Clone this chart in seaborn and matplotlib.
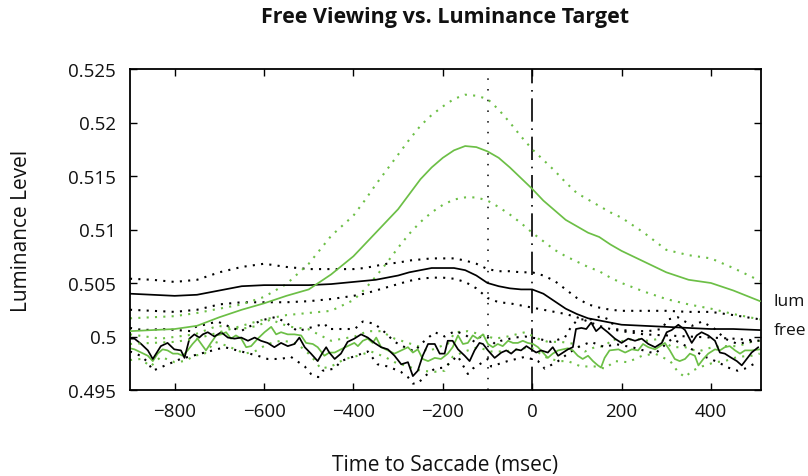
import matplotlib
matplotlib.use("Agg")
import matplotlib.pyplot as plt
import seaborn as sns

sns.set_theme(style="white")
plt.rcParams["font.family"] = ["Open Sans", "DejaVu Sans"]

GREEN = "#6cbf46"
BLACK = "#000000"

# ---- smoothed averages ----
t_smooth = [-900, -850, -800, -750, -700, -650, -600, -550, -500, -450, -400, -375,
            -350, -325, -300, -275, -250, -225, -200, -175, -150, -125, -100, -75,
            -50, -25, 0, 25, 50, 75, 100, 125, 150, 175, 200, 250, 300, 350, 400,
            450, 510]

lum_mean = [0.5005, 0.5006, 0.5007, 0.5010, 0.5018, 0.5025, 0.5031, 0.5038, 0.5044,
            0.5058, 0.5075, 0.5086, 0.5097, 0.5108, 0.5119, 0.5133, 0.5147, 0.5158,
            0.5167, 0.5174, 0.5178, 0.5177, 0.5173, 0.5167, 0.5158, 0.5148, 0.5138,
            0.5127, 0.5118, 0.5109, 0.5103, 0.5097, 0.5093, 0.5086, 0.5080, 0.5070,
            0.5060, 0.5053, 0.5050, 0.5043, 0.5033]
lum_upper = [0.5017, 0.5018, 0.5019, 0.5022, 0.5026, 0.5030, 0.5037, 0.5049, 0.5068,
             0.5094, 0.5113, 0.5127, 0.5142, 0.5156, 0.5170, 0.5184, 0.5197, 0.5207,
             0.5215, 0.5222, 0.5226, 0.5225, 0.5222, 0.5212, 0.5200, 0.5187, 0.5175,
             0.5165, 0.5155, 0.5144, 0.5134, 0.5128, 0.5122, 0.5116, 0.5111, 0.5097,
             0.5081, 0.5076, 0.5073, 0.5064, 0.5052]
lum_lower = [0.4993, 0.4994, 0.4995, 0.4998, 0.5004, 0.5010, 0.5016, 0.5020, 0.5022,
             0.5024, 0.5034, 0.5044, 0.5056, 0.5069, 0.5083, 0.5096, 0.5107, 0.5116,
             0.5123, 0.5128, 0.5130, 0.5130, 0.5127, 0.5121, 0.5114, 0.5106, 0.5097,
             0.5089, 0.5081, 0.5075, 0.5070, 0.5065, 0.5061, 0.5055, 0.5050, 0.5042,
             0.5035, 0.5030, 0.5026, 0.5021, 0.5016]

free_mean = [0.5040, 0.5039, 0.5038, 0.5039, 0.5043, 0.5047, 0.5048, 0.5048, 0.5048,
             0.5049, 0.5051, 0.5052, 0.5053, 0.5055, 0.5057, 0.5060, 0.5062, 0.5064,
             0.5064, 0.5064, 0.5062, 0.5057, 0.5050, 0.5047, 0.5045, 0.5044, 0.5044,
             0.5040, 0.5033, 0.5026, 0.5021, 0.5017, 0.5015, 0.5013, 0.5011, 0.5010,
             0.5009, 0.5008, 0.5007, 0.5007, 0.5006]
free_upper = [0.5054, 0.5053, 0.5051, 0.5053, 0.5060, 0.5065, 0.5068, 0.5065, 0.5063,
              0.5063, 0.5063, 0.5064, 0.5066, 0.5068, 0.5069, 0.5071, 0.5072, 0.5073,
              0.5073, 0.5073, 0.5071, 0.5068, 0.5063, 0.5061, 0.5061, 0.5060, 0.5060,
              0.5057, 0.5052, 0.5044, 0.5036, 0.5030, 0.5027, 0.5025, 0.5024, 0.5024,
              0.5024, 0.5023, 0.5023, 0.5020, 0.5016]
free_lower = [0.5025, 0.5024, 0.5023, 0.5025, 0.5030, 0.5032, 0.5032, 0.5032, 0.5033,
              0.5035, 0.5038, 0.5040, 0.5043, 0.5046, 0.5049, 0.5052, 0.5054, 0.5055,
              0.5055, 0.5054, 0.5051, 0.5045, 0.5036, 0.5032, 0.5031, 0.5029, 0.5027,
              0.5025, 0.5023, 0.5021, 0.5018, 0.5014, 0.5010, 0.5007, 0.5005, 0.5002,
              0.5001, 0.5000, 0.4999, 0.4998, 0.4996]

# ---- raw (unsmoothed) averages ----
free_raw_t = [-900, -890, -875, -860, -849, -831, -816, -801, -786, -778, -767, -756,
              -745, -737, -726, -711, -696, -681, -666, -651, -636, -621, -607, -592,
              -577, -562, -547, -532, -521, -509, -495, -480, -469, -461, -454, -442,
              -428, -413, -398, -383, -368, -353, -338, -323, -308, -293, -278, -267,
              -256, -245, -233, -218, -207, -196, -189, -178, -166, -151, -140, -129,
              -118, -110, -99, -84, -69, -58, -47, -36, -25, -13, -2, 9, 20, 35, 46,
              58, 69, 80, 91, 98, 110, 121, 132, 143, 154, 169, 185, 200, 215, 230,
              245, 260, 275, 290, 301, 312, 327, 342, 357, 368, 379, 394, 409, 420,
              431, 446, 458, 469, 480, 491, 506]
free_raw = [0.4998, 0.4998, 0.4993, 0.4987, 0.4979, 0.4991, 0.4994, 0.4988, 0.4987,
            0.4980, 0.4998, 0.5002, 0.4999, 0.5002, 0.5004, 0.5000, 0.5004, 0.4999,
            0.4998, 0.4999, 0.4996, 0.4999, 0.4996, 0.4994, 0.4990, 0.4994, 0.4991,
            0.4993, 0.4999, 0.4990, 0.4984, 0.4977, 0.4985, 0.4990, 0.4985, 0.4979,
            0.4984, 0.4995, 0.4998, 0.5002, 0.4999, 0.4994, 0.4990, 0.4988, 0.4982,
            0.4974, 0.4976, 0.4963, 0.4968, 0.4982, 0.4993, 0.4993, 0.4984, 0.4984,
            0.4996, 0.4996, 0.4988, 0.4982, 0.4977, 0.4987, 0.4994, 0.4993, 0.4987,
            0.4980, 0.4985, 0.4987, 0.4984, 0.4988, 0.4987, 0.4991, 0.4988, 0.4985,
            0.4987, 0.4985, 0.4990, 0.4982, 0.4985, 0.4988, 0.4990, 0.5007, 0.5008,
            0.5007, 0.5013, 0.5005, 0.5009, 0.5004, 0.4998, 0.4994, 0.4998, 0.4996,
            0.4998, 0.4993, 0.4990, 0.4994, 0.5004, 0.5006, 0.5011, 0.5006, 0.4994,
            0.5001, 0.5004, 0.5001, 0.4996, 0.4985, 0.4984, 0.4980, 0.4977, 0.4973,
            0.4979, 0.4985, 0.4990]

free_raw_up_t = [-900, -870, -827, -764, -753, -704, -688, -652, -607, -576, -554,
                 -525, -464, -457, -397, -379, -353, -330, -308, -285, -263, -249,
                 -218, -196, -173, -151, -129, -115, -99, -83, -70, -39, -16, 13, 42,
                 73, 87, 98, 109, 131, 154, 176, 185, 223, 259, 290, 304, 326, 358,
                 380, 409, 431, 460, 482, 504]
free_raw_up = [0.5008, 0.5006, 0.5007, 0.5005, 0.5009, 0.5014, 0.5011, 0.5005, 0.5015,
               0.5018, 0.5014, 0.5005, 0.5012, 0.5007, 0.5007, 0.5014, 0.5012, 0.5004,
               0.4995, 0.4990, 0.4986, 0.4993, 0.5004, 0.5000, 0.5005, 0.5002, 0.4995,
               0.5000, 0.4999, 0.4993, 0.4996, 0.4999, 0.5000, 0.4998, 0.4995, 0.4999,
               0.5009, 0.5014, 0.5016, 0.5016, 0.5019, 0.5015, 0.5007, 0.5005, 0.5005,
               0.5007, 0.5016, 0.5018, 0.5010, 0.5014, 0.5007, 0.4998, 0.4993, 0.4995,
               0.4996]

free_raw_lo_t = [-900, -876, -860, -849, -787, -688, -614, -592, -563, -540, -509,
                 -495, -479, -469, -442, -428, -368, -346, -323, -294, -278, -267,
                 -256, -240, -218, -196, -167, -144, -133, -99, -92, -55, -16, 13, 28,
                 58, 80, 102, 131, 163, 185, 223, 275, 313, 349, 387, 416, 438, 460,
                 476, 504]
free_raw_lo = [0.4986, 0.4982, 0.4976, 0.4968, 0.4979, 0.4990, 0.4982, 0.4979, 0.4979,
               0.4981, 0.4972, 0.4965, 0.4962, 0.4968, 0.4970, 0.4977, 0.4986, 0.4974,
               0.4972, 0.4967, 0.4962, 0.4956, 0.4956, 0.4963, 0.4970, 0.4971, 0.4982,
               0.4965, 0.4970, 0.4979, 0.4972, 0.4977, 0.4981, 0.4977, 0.4970, 0.4977,
               0.4984, 0.4990, 0.4995, 0.4990, 0.4993, 0.4990, 0.4984, 0.4998, 0.4990,
               0.4981, 0.4976, 0.4971, 0.4968, 0.4970, 0.4976]

lum_raw_t = [-900, -890, -875, -860, -849, -838, -827, -816, -804, -793, -782, -771,
             -760, -749, -737, -730, -719, -707, -696, -685, -674, -663, -651, -640,
             -629, -614, -599, -584, -573, -562, -547, -532, -517, -506, -491, -480,
             -465, -454, -442, -428, -413, -398, -390, -379, -368, -357, -349, -338,
             -323, -308, -293, -278, -267, -256, -245, -233, -218, -204, -189, -178,
             -166, -155, -144, -133, -122, -110, -99, -88, -77, -66, -54, -43, -32,
             -21, -10, 2, 13, 24, 35, 46, 58, 69, 80, 91, 102, 113, 125, 136, 147,
             154, 162, 173, 193, 208, 223, 237, 248, 260, 275, 286, 297, 308, 319,
             330, 342, 353, 364, 372, 383, 394, 409, 420, 431, 442, 454, 465, 476,
             491, 510]
lum_raw = [0.4989, 0.4988, 0.4985, 0.4982, 0.4977, 0.4984, 0.4988, 0.4987, 0.4984,
           0.4984, 0.4982, 0.4987, 0.4993, 0.4998, 0.4991, 0.4987, 0.4994, 0.5001,
           0.5002, 0.5004, 0.4998, 0.5001, 0.4998, 0.4990, 0.4991, 0.4998, 0.5004,
           0.5009, 0.5002, 0.5004, 0.5002, 0.5002, 0.5001, 0.4994, 0.4993, 0.4990,
           0.4982, 0.4985, 0.4985, 0.4988, 0.4991, 0.4994, 0.4991, 0.4996, 0.4998,
           0.4994, 0.4999, 0.4990, 0.4987, 0.4984, 0.4987, 0.4990, 0.4985, 0.4988,
           0.4979, 0.4977, 0.4980, 0.4979, 0.4984, 0.4990, 0.5001, 0.4993, 0.4994,
           0.5001, 0.4998, 0.5002, 0.4993, 0.4990, 0.4993, 0.4991, 0.4996, 0.4994,
           0.4994, 0.4996, 0.4994, 0.4993, 0.4990, 0.4985, 0.4980, 0.4984, 0.4987,
           0.4988, 0.4989, 0.4987, 0.4982, 0.4979, 0.4982, 0.4977, 0.4973, 0.4971,
           0.4980, 0.4987, 0.4988, 0.4985, 0.4988, 0.4987, 0.4993, 0.4990, 0.4988,
           0.4991, 0.4994, 0.4987, 0.4979, 0.4977, 0.4979, 0.4984, 0.4982, 0.4973,
           0.4979, 0.4984, 0.4988, 0.4987, 0.4990, 0.4991, 0.4987, 0.4984, 0.4987,
           0.4987, 0.4988]

lum_raw_up_t = [-900, -831, -755, -704, -652, -614, -585, -563, -540, -502, -450,
                -397, -368, -339, -308, -285, -256, -233, -211, -189, -173, -144,
                -115, -83, -55, -16, 13, 35, 64, 96, 118, 140, 163, 181, 192, 230,
                259, 286, 313, 342, 371, 403, 431, 460, 491, 509]
lum_raw_up = [0.5002, 0.4998, 0.5002, 0.5010, 0.5007, 0.5010, 0.5016, 0.5012, 0.5009,
              0.5007, 0.4996, 0.5000, 0.5005, 0.5005, 0.4998, 0.4995, 0.4991, 0.4986,
              0.4990, 0.4993, 0.5004, 0.5005, 0.5002, 0.4998, 0.5000, 0.5004, 0.4998,
              0.4995, 0.4995, 0.4993, 0.4986, 0.4990, 0.4991, 0.4998, 0.4995, 0.4998,
              0.4996, 0.4998, 0.4990, 0.4990, 0.4986, 0.4990, 0.4991, 0.4991, 0.4995,
              0.4996]

lum_raw_lo_t = [-900, -876, -854, -831, -800, -778, -755, -733, -710, -681, -643,
                -621, -592, -563, -540, -525, -495, -473, -450, -419, -390, -361,
                -330, -308, -278, -249, -218, -196, -178, -151, -122, -92, -61, -32,
                -3, 28, 58, 80, 109, 140, 163, 185, 214, 246, 275, 309, 326, 342,
                358, 380, 409, 431, 460, 491, 509]
lum_raw_lo = [0.4978, 0.4979, 0.4972, 0.4981, 0.4976, 0.4977, 0.4982, 0.4984, 0.4995,
              0.4991, 0.4984, 0.4986, 0.4993, 0.4996, 0.4995, 0.4993, 0.4982, 0.4970,
              0.4972, 0.4979, 0.4982, 0.4986, 0.4981, 0.4976, 0.4972, 0.4968, 0.4967,
              0.4968, 0.4981, 0.4986, 0.4990, 0.4986, 0.4986, 0.4988, 0.4990, 0.4981,
              0.4977, 0.4977, 0.4972, 0.4972, 0.4970, 0.4977, 0.4976, 0.4982, 0.4984,
              0.4977, 0.4967, 0.4962, 0.4968, 0.4972, 0.4976, 0.4977, 0.4981, 0.4982,
              0.4984]

x_ticks = [-800, -600, -400, -200, 0, 200, 400]
x_tick_labels = ["\u2212800", "\u2212600", "\u2212400", "\u2212200", "0", "200", "400"]
y_ticks = [0.495, 0.5, 0.505, 0.51, 0.515, 0.52, 0.525]
y_tick_labels = ["0.495", "0.5", "0.505", "0.51", "0.515", "0.52", "0.525"]

fig = plt.figure(figsize=(8.08, 4.77), dpi=100)
ax = fig.add_axes([130 / 808, 1 - 391 / 477, 631 / 808, 321 / 477])

DOT = (0, (1, 3))
SOLID_LW = 1.25
DOT_LW = 1.5


def trace(x, y, color, lw, ls="-", z=2):
    sns.lineplot(x=x, y=y, color=color, linewidth=lw, linestyle=ls,
                 estimator=None, errorbar=None, ax=ax, zorder=z)


# raw traces with their confidence limits
trace(lum_raw_up_t, lum_raw_up, GREEN, DOT_LW, DOT)
trace(lum_raw_lo_t, lum_raw_lo, GREEN, DOT_LW, DOT)
trace(free_raw_up_t, free_raw_up, BLACK, DOT_LW, DOT)
trace(free_raw_lo_t, free_raw_lo, BLACK, DOT_LW, DOT)
trace(lum_raw_t, lum_raw, GREEN, SOLID_LW)
trace(free_raw_t, free_raw, BLACK, SOLID_LW)

# smoothed traces with their confidence limits
trace(t_smooth, free_upper, BLACK, DOT_LW, DOT)
trace(t_smooth, free_lower, BLACK, DOT_LW, DOT)
trace(t_smooth, lum_upper, GREEN, DOT_LW, DOT)
trace(t_smooth, lum_lower, GREEN, DOT_LW, DOT)
trace(t_smooth, free_mean, BLACK, SOLID_LW, z=3)
trace(t_smooth, lum_mean, GREEN, SOLID_LW, z=3)

# reference markers: -100 ms and saccade onset
ax.axvline(-100, color=BLACK, lw=1.1, linestyle=(0, (1, 6)), zorder=1)
ax.axvline(0, color=BLACK, lw=1.2, linestyle=(0, (14, 4, 1, 4)), zorder=1)

ax.set_xlim(-900, 512)
ax.set_ylim(0.495, 0.525)
ax.set_xticks(x_ticks)
ax.set_xticklabels(x_tick_labels)
ax.set_yticks(y_ticks)
ax.set_yticklabels(y_tick_labels)

ax.tick_params(axis="both", which="both", direction="in", length=5, width=1,
               color=BLACK, labelsize=13.5, labelcolor="#111111",
               top=True, right=True, bottom=True, left=True)
ax.tick_params(axis="x", pad=9)
ax.tick_params(axis="y", pad=10)
for sp in ax.spines.values():
    sp.set_visible(True)
    sp.set_color(BLACK)
    sp.set_linewidth(1.3)

ax.set_xlabel("Time to Saccade (msec)", fontsize=15, color="#111111")
ax.set_ylabel("Luminance Level", fontsize=15, color="#111111")
ax.xaxis.set_label_coords(0.5, (391 - 466) / 321)
ax.xaxis.label.set_va("center")
ax.yaxis.set_label_coords((22 - 130) / 631, 0.5)
ax.yaxis.label.set_va("center")

fig.text(445.5 / 808, 1 - 18 / 477, "Free Viewing vs. Luminance Target",
         ha="center", va="center", fontsize=15.5, fontweight="bold", color="#111111")

# series names at the right-hand end of the smoothed traces
for name, series in (("lum", lum_mean), ("free", free_mean)):
    ax.annotate(name, xy=(1, series[-1]), xycoords=("axes fraction", "data"),
                xytext=(9, 0), textcoords="offset points", va="center", ha="left",
                fontsize=12.5, color="#111111", annotation_clip=False)

fig.savefig("out.png", dpi=100, facecolor="white")
